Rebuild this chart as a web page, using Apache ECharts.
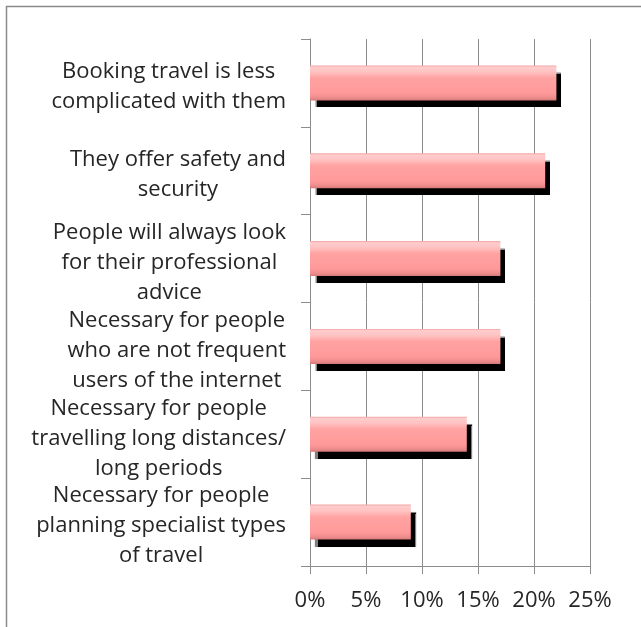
<!DOCTYPE html>
<html>
<head>
<meta charset="utf-8">
<script src="https://cdn.jsdelivr.net/npm/echarts@6/dist/echarts.min.js"></script>
<style>
  html, body { margin: 0; padding: 0; background: #fff; }
  #chart { width: 641px; height: 627px; }
</style>
</head>
<body>
<div id="chart"></div>
<script>
// Reasons given for still using a travel agent (share of respondents, %)
const categories = [
  'Booking travel is less\ncomplicated with them',
  'They offer safety and\nsecurity',
  'People will always look\nfor their professional\nadvice',
  'Necessary for people\nwho are not frequent\nusers of the internet',
  'Necessary for people\ntravelling long distances/\nlong periods',
  'Necessary for people\nplanning specialist types\nof travel'
];
const shares = [22, 21, 17, 17, 14, 9];
const xTicks = { min: 0, max: 25, step: 5 };

const chart = echarts.init(document.getElementById('chart'), null, { renderer: 'canvas' });

const labelFont = '"Open Sans", "Noto Sans", sans-serif';
const textColor = '#262626';
const lineGrey = '#8c8c8c';

// Glossy pink fill: light highlight near the top, darker rim at the bottom
const barFill = new echarts.graphic.LinearGradient(0, 0, 0, 1, [
  { offset: 0.00, color: '#f0a4a4' },
  { offset: 0.05, color: '#ffcccc' },
  { offset: 0.18, color: '#ffc3c3' },
  { offset: 0.36, color: '#ffa2a2' },
  { offset: 0.80, color: '#ff9999' },
  { offset: 0.93, color: '#ec8b8b' },
  { offset: 1.00, color: '#d47878' }
]);

chart.setOption({
  backgroundColor: '#ffffff',
  animation: false,
  graphic: [{
    type: 'rect',
    shape: { x: 6.5, y: 6.5, width: 700, height: 700 },
    style: { fill: 'none', stroke: '#8a8a8a', lineWidth: 1.5 },
    silent: true,
    z: -1
  }],
  grid: { left: 310, right: 51, top: 39, bottom: 61, containLabel: false },
  xAxis: {
    type: 'value',
    min: xTicks.min,
    max: xTicks.max,
    interval: xTicks.step,
    axisLine: { show: true, lineStyle: { color: lineGrey, width: 1 } },
    axisTick: { show: true, length: 8, lineStyle: { color: lineGrey } },
    splitLine: { show: true, lineStyle: { color: lineGrey, width: 1 } },
    axisLabel: {
      formatter: '{value}%',
      margin: 24,
      color: textColor,
      fontFamily: labelFont,
      fontSize: 22
    }
  },
  yAxis: {
    type: 'category',
    inverse: true,
    data: categories,
    axisLine: { show: true, lineStyle: { color: lineGrey, width: 1 } },
    axisTick: { show: true, length: 9, lineStyle: { color: lineGrey } },
    splitLine: { show: false },
    axisLabel: {
      margin: 24,
      interval: 0,
      padding: [8, 0, 0, 0],
      formatter: function (v) {
        return v.split('\n').map(function (line) { return '{c|' + line + '}'; }).join('\n');
      },
      rich: {
        c: {
          align: 'center',
          color: textColor,
          fontFamily: labelFont,
          fontSize: 22,
          lineHeight: 30
        }
      }
    }
  },
  series: [{
    type: 'bar',
    data: shares,
    barWidth: 35,
    itemStyle: {
      color: barFill,
      shadowColor: 'rgba(0,0,0,1)',
      shadowBlur: 1,
      shadowOffsetX: 5,
      shadowOffsetY: 7
    }
  }]
});
</script>
</body>
</html>
